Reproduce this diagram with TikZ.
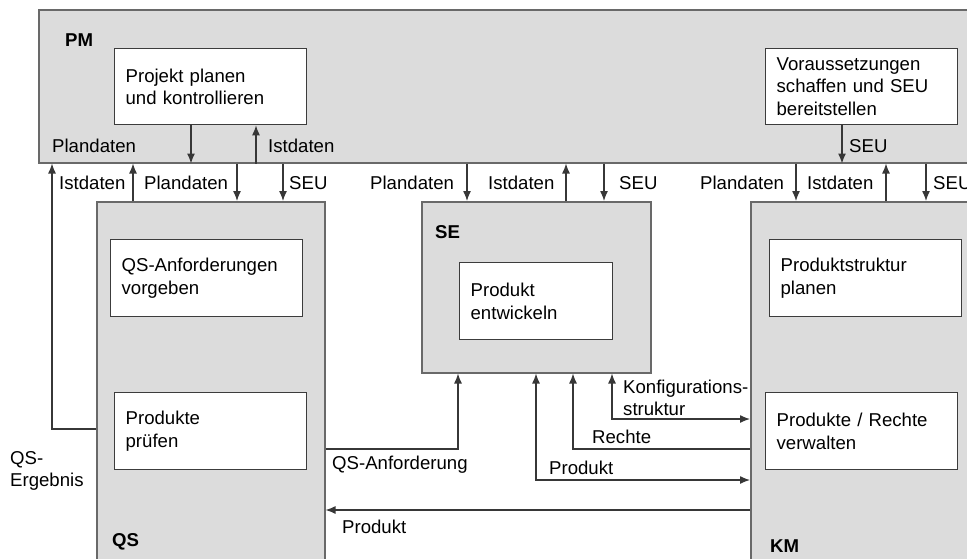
\documentclass[tikz,border=0pt]{standalone}
\usepackage{fontspec}
\setmainfont{Liberation Sans}
\usetikzlibrary{arrows.meta}
\definecolor{groupfill}{RGB}{220,220,220}
\definecolor{groupline}{RGB}{105,105,105}
\definecolor{taskline}{RGB}{60,60,60}
\definecolor{flowline}{RGB}{55,55,55}
\tikzset{
  group/.style={draw=groupline, fill=groupfill, line width=1.5pt, anchor=north west,
    inner sep=0pt, minimum width=#1},
  task/.style={draw=taskline, fill=white, line width=1.3pt, anchor=north west,
    inner xsep=11pt, inner ysep=0pt, text width=#1, align=left, minimum height=76pt},
  lbl/.style={inner sep=0pt, anchor=base west, align=left},
  title/.style={lbl, font=\fontsize{18.6}{22.5}\selectfont\bfseries},
  flow/.style={draw=flowline, line width=1.3pt, -{Latex[length=10pt,width=8pt]}},
  flowboth/.style={draw=flowline, line width=1.3pt, {Latex[length=10pt,width=8pt]}-{Latex[length=10pt,width=8pt]}},
  plain/.style={draw=flowline, line width=1.3pt}
}
\begin{document}
\begin{tikzpicture}[x=1pt, y=-1pt, font=\fontsize{18.6}{22.5}\selectfont]
\useasboundingbox (0,0) rectangle (967,558);
\clip (0,0) rectangle (967,558);
\fill[white] (0,0) rectangle (967,558);

% groups
\node[group=1000pt, minimum height=153pt] (pm) at (38,9) {};
\node[group=228pt, minimum height=400pt] (qs) at (96,201) {};
\node[group=229pt, minimum height=171pt] (se) at (421,201) {};
\node[group=300pt, minimum height=400pt] (km) at (750,201) {};

% group titles
\node[title] (tpm) at (65,46.7) {PM};
\node[title] (tse) at (435,238.7) {SE};
\node[title] (tqs) at (112,546.7) {QS};
\node[title] (tkm) at (770,552.7) {KM};

% tasks
\node[task=170pt] (pp) at (114,48) {Projekt planen\\und kontrollieren};
\node[task=170pt] (vs) at (765,48) {Voraussetzungen\\schaffen und SEU\\bereitstellen};
\node[task=170pt, minimum height=77pt] (qa) at (110,239) {QS-Anforderungen\\vorgeben};
\node[task=170pt, minimum height=77pt] (pr) at (114,392) {Produkte\\prüfen};
\node[task=131pt, minimum height=77pt] (pe) at (459,262) {Produkt\\entwickeln};
\node[task=170pt, minimum height=77pt] (ps) at (769,239) {Produktstruktur\\planen};
\node[task=170pt, minimum height=77pt] (pv) at (765,392) {Produkte / Rechte\\verwalten};

% connector positions
\coordinate (x191) at (191,0);
\coordinate (x256) at (256,0);
\coordinate (x133) at (133,0);
\coordinate (x237) at (237,0);
\coordinate (x283) at (283,0);
\coordinate (x467) at (467,0);
\coordinate (x566) at (566,0);
\coordinate (x604) at (604,0);
\coordinate (x842) at (842,0);
\coordinate (x796) at (796,0);
\coordinate (x886) at (886,0);
\coordinate (x926) at (926,0);
\coordinate (qe) at (52,429);
\coordinate (qr) at (458,449);
\coordinate (pk) at (536,480);
\coordinate (re) at (573,449);
\coordinate (kf) at (612,419);
\coordinate (pq) at (0,510);

% flows inside PM
\draw[flow] (pp.south -| x191) -- (pm.south -| x191);
\draw[flow] (pm.south -| x256) -- (pp.south -| x256);
\draw[flow] (vs.south -| x842) -- (pm.south -| x842);

% flows between PM and QS
\draw[flow] (qs.west |- qe) -- (qe) -- (pm.south -| qe);
\draw[flow] (qs.north -| x133) -- (pm.south -| x133);
\draw[flow] (pm.south -| x237) -- (qs.north -| x237);
\draw[flow] (pm.south -| x283) -- (qs.north -| x283);

% flows between PM and SE
\draw[flow] (pm.south -| x467) -- (se.north -| x467);
\draw[flow] (se.north -| x566) -- (pm.south -| x566);
\draw[flow] (pm.south -| x604) -- (se.north -| x604);

% flows between PM and KM
\draw[flow] (pm.south -| x796) -- (km.north -| x796);
\draw[flow] (km.north -| x886) -- (pm.south -| x886);
\draw[flow] (pm.south -| x926) -- (km.north -| x926);

% flows below SE
\draw[flow] (qs.east |- qr) -- (qr) -- (se.south -| qr);
\draw[flowboth] (se.south -| pk) -- (pk) -- (km.west |- pk);
\draw[flow] (km.west |- re) -- (re) -- (se.south -| re);
\draw[flowboth] (se.south -| kf) -- (kf) -- (km.west |- kf);
\draw[flow] (km.west |- pq) -- (qs.east |- pq);

% flow labels (two-line labels sit on the baseline of their last line)
\node[lbl] (l1) at (52,152.7) {Plandaten};
\node[lbl] (l2) at (268,152.7) {Istdaten};
\node[lbl] (l3) at (849,152.7) {SEU};
\node[lbl] (l4) at (59,189.7) {Istdaten};
\node[lbl] (l5) at (144,189.7) {Plandaten};
\node[lbl] (l6) at (289,189.7) {SEU};
\node[lbl] (l7) at (370,189.7) {Plandaten};
\node[lbl] (l8) at (488,189.7) {Istdaten};
\node[lbl] (l9) at (619,189.7) {SEU};
\node[lbl] (l10) at (700,189.7) {Plandaten};
\node[lbl] (l11) at (807,189.7) {Istdaten};
\node[lbl] (l12) at (933,189.7) {SEU};
\node[lbl] (l13) at (10,486.7) {QS-\\Ergebnis};
\node[lbl] (l14) at (332,469.7) {QS-Anforderung};
\node[lbl] (l15) at (342,533.7) {Produkt};
\node[lbl] (l16) at (549,474.7) {Produkt};
\node[lbl] (l17) at (592,443.7) {Rechte};
\node[lbl] (l18) at (623,415.7) {Konfigurations-\\struktur};
\end{tikzpicture}
\end{document}
